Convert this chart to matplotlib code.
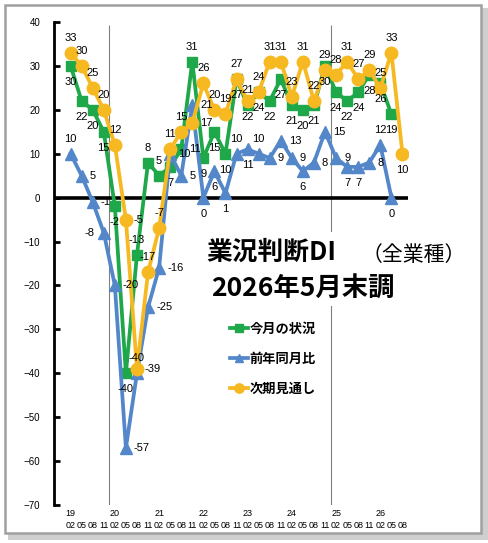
import matplotlib
matplotlib.use("Agg")
import matplotlib.pyplot as plt
from matplotlib.patches import Rectangle

# データ（業況判断DI）
years = ["19", "20", "21", "22", "23", "24", "25", "26"]
months = ["02", "05", "08", "11"]

current = [30, 22, 20, 15, -2, -40, -13, 8, 5, 7, 11, 31, 9, 15, 10,
           27, 21, 24, 22, 27, 21, 20, 21, 30, 24, 22, 24, 28, 26, 19]
yoy = [10, 5, -1, -8, -20, -57, -40, -25, -16, 10, 5, 21, 0, 6, 1,
       10, 11, 10, 9, 13, 9, 6, 8, 15, 9, 7, 7, 8, 12, 0]
outlook = [33, 30, 25, 20, 12, -5, -39, -17, -7, 11, 15, 17, 26, 20, 19,
           27, 22, 24, 31, 31, 23, 31, 22, 29, 28, 31, 27, 29, 25, 33, 10]

series_names = ["今月の状況", "前年同月比", "次期見通し"]

periods = [(y, m) for y in years for m in months][:len(outlook)]

# ラベル位置 (a=上, b=下, r=右, l=左)
current_pos = "bbbbbb" + "aaa" + "b" + "r" + "a" + "bbbb" + "a" + "b" * 13
yoy_pos = "arrlrrarrrrrbbbabarrrbrrrbbrab"
outlook_pos = "aaaaa" + "rr" + "aaaa" + "r" + "aaaa" + "b" + "a" * 13 + "b"

GREEN = "#1fa84a"
BLUE = "#5387c9"
YELLOW = "#f6b922"

W, H = 489, 543
plt.rcParams["font.family"] = ["Liberation Sans", "Noto Sans CJK JP", "DejaVu Sans"]

fig = plt.figure(figsize=(W / 100, H / 100), dpi=100)


def px_box(x0, y0, x1, y1):
    return (x0 / W, 1 - y1 / H), (x1 - x0) / W, (y1 - y0) / H


# 外枠と影
xy, w, h = px_box(8, 8, 489, 540)
fig.patches.append(Rectangle(xy, w, h, transform=fig.transFigure,
                             fc="#cfcfcf", ec="none", zorder=-2))
xy, w, h = px_box(5, 5, 481, 533)
fig.patches.append(Rectangle(xy, w, h, transform=fig.transFigure,
                             fc="white", ec="#a0a0a0", lw=1.8, zorder=-1))

ax = fig.add_axes([54 / W, 1 - 505 / H, (408 - 54) / W, (505 - 22) / H])
ax.patch.set_visible(False)

ax.set_xlim(-1.5, len(outlook) - 0.5)
ax.set_ylim(-70, 40)
ax.set_yticks(range(-70, 41, 10))
ax.set_xticks([])
for side in ["top", "right", "bottom"]:
    ax.spines[side].set_visible(False)
ax.spines["left"].set_linewidth(2)
ax.tick_params(axis="y", direction="in", length=4, width=2, labelsize=7, pad=10)

ax.axhline(0, color="black", lw=2.6, zorder=1.5)
ax.vlines([3.5, 23.5], -70, 39.3, color="#808080", lw=0.8, zorder=1)

offsets = {
    "a": (0, 15, "center", "center"),
    "b": (0, -16, "center", "center"),
    "r": (8, 0, "left", "center"),
    "l": (-9, 0, "right", "center"),
}


def draw_series(values, pos, color, marker, ms, label, z):
    xs = list(range(len(values)))
    ax.plot(xs, values, color=color, lw=2.7, marker=marker, ms=ms,
            label=label, zorder=z)
    for x, v, p in zip(xs, values, pos):
        dx, dy, ha, va = offsets[p]
        ax.annotate(str(v), (x, v), xytext=(dx, dy), textcoords="offset pixels",
                    ha=ha, va=va, fontsize=8, zorder=6)


draw_series(current, current_pos, GREEN, "s", 7.5, series_names[0], 3)
draw_series(yoy, yoy_pos, BLUE, "^", 8.5, series_names[1], 4)
draw_series(outlook, outlook_pos, YELLOW, "o", 9, series_names[2], 5)

# 横軸ラベル（年・月）
for i, (yr, mo) in enumerate(periods):
    ax.annotate(mo, (i, 0), xycoords=ax.get_xaxis_transform(), xytext=(0, -20),
                textcoords="offset pixels", ha="center", va="center", fontsize=6.5)
    if mo == "02":
        ax.annotate(yr, (i, 0), xycoords=ax.get_xaxis_transform(), xytext=(0, -9),
                    textcoords="offset pixels", ha="center", va="center", fontsize=6.5)

# タイトル
xy, w, h = px_box(205, 232, 472, 306)
fig.patches.append(Rectangle(xy, w, h, transform=fig.transFigure,
                             fc="white", ec="none", zorder=1))
fig.text(206 / W, 1 - 252 / H, "業況判断DI", fontsize=18.5, fontweight="bold",
         family="Noto Sans CJK JP", ha="left", va="center")
fig.text(362 / W, 1 - 255 / H, "（全業種）", fontsize=15,
         family="Noto Sans CJK JP", ha="left", va="center")
fig.text(211 / W, 1 - 288 / H, "2026年5月末調", fontsize=19, fontweight="bold",
         family="Noto Sans CJK JP", ha="left", va="center")

ax.legend(loc="upper left", bbox_to_anchor=(230 / W, 1 - 322 / H),
          bbox_transform=fig.transFigure, frameon=False,
          prop=dict(family="Noto Sans CJK JP", weight="bold", size=9.5),
          handlelength=1.4, handletextpad=0.1, labelspacing=1.2,
          borderpad=0, borderaxespad=0, markerscale=0.75)

fig.savefig("out.png", dpi=100)
